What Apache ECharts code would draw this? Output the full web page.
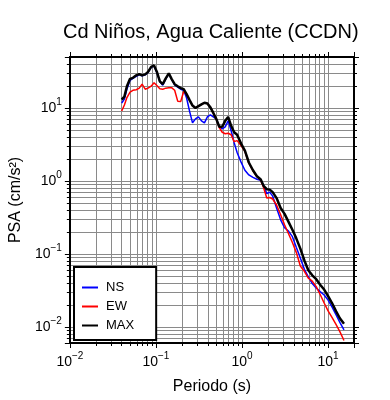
<!DOCTYPE html>
<html>
<head>
<meta charset="utf-8">
<script src="https://cdn.jsdelivr.net/npm/echarts@6/dist/echarts.min.js"></script>
<style>
  html, body { margin: 0; padding: 0; background: #fff; }
  #chart { width: 390px; height: 400px; }
</style>
</head>
<body>
<div id="chart"></div>
<script>
// periods (s)
const periods = [0.040, 0.043, 0.046, 0.050, 0.054, 0.059, 0.064, 0.069, 0.075, 0.081,
  0.088, 0.095, 0.103, 0.111, 0.120, 0.130, 0.141, 0.153, 0.165, 0.179,
  0.194, 0.210, 0.227, 0.246, 0.266, 0.288, 0.312, 0.338, 0.366, 0.396,
  0.429, 0.464, 0.502, 0.544, 0.589, 0.638, 0.690, 0.748, 0.810, 0.877,
  0.975, 1.08, 1.20, 1.34, 1.49, 1.65, 1.79, 1.94, 2.10, 2.27,
  2.52, 2.81, 3.12, 3.47, 3.85, 4.28, 4.76, 5.30, 5.89, 6.55,
  7.28, 8.09, 9.00, 10.0, 11.1, 12.4, 13.7, 15.3]

const ns = [11.7, 13.2, 18.1, 24.0, 25.5, 27.2, 28.5, 27.6, 28.5, 30.8,
  36.0, 37.7, 30.3, 22.9, 20.5, 25.1, 29.4, 24.4, 20.8, 19.3,
  18.1, 17.5, 13.7, 9.0, 6.26, 7.09, 7.55, 6.66, 6.26, 7.55,
  8.04, 7.55, 7.09, 5.52, 5.19, 5.52, 6.66, 4.87, 3.35, 2.45,
  1.81, 1.40, 1.21, 1.12, 1.054, 1.02, 0.848, 0.670, 0.703, 0.620,
  0.426, 0.293, 0.228, 0.205, 0.172, 0.122, 0.0879, 0.0614, 0.0486, 0.0391,
  0.0340, 0.0304, 0.0273, 0.0233, 0.0188, 0.0146, 0.0115, 0.0091]

const ew = [9.11, 11.0, 13.9, 16.5, 17.5, 17.8, 18.7, 21.2, 18.1, 18.7,
  19.9, 22.2, 20.2, 18.4, 18.1, 18.7, 19.0, 18.9, 17.5, 12.4,
  12.3, 16.8, 15.5, 12.8, 10.8, 10.0, 10.6, 11.2, 11.8, 11.5,
  10.2, 8.55, 7.09, 5.40, 4.65, 4.44, 4.50, 4.30, 3.46, 3.57,
  3.05, 2.55, 1.75, 1.38, 1.15, 1.02, 0.796, 0.582, 0.592, 0.565,
  0.468, 0.343, 0.251, 0.189, 0.143, 0.104, 0.0681, 0.0577, 0.0464, 0.0422,
  0.0356, 0.0277, 0.0212, 0.0165, 0.0135, 0.0107, 0.0086, 0.0065]

const maxv = [13.0, 14.3, 19.9, 25.1, 25.9, 28.0, 29.2, 28.0, 28.9, 31.3,
  36.6, 38.3, 30.8, 23.2, 21.2, 25.5, 29.8, 24.7, 21.2, 19.9,
  18.7, 18.1, 15.5, 12.8, 10.8, 10.0, 10.6, 11.2, 11.8, 11.5,
  10.2, 8.55, 7.09, 5.52, 5.52, 6.66, 7.55, 5.70, 4.65, 4.30,
  3.25, 2.61, 1.79, 1.40, 1.16, 1.045, 0.848, 0.771, 0.760, 0.703,
  0.582, 0.426, 0.353, 0.275, 0.214, 0.162, 0.118, 0.0813, 0.0595, 0.0509,
  0.0450, 0.0378, 0.0324, 0.0264, 0.0212, 0.0163, 0.0131, 0.0110]

const FONT = 'Liberation Sans'
const gridColor = '#8a8a8a'

function pairs(ys) {
  return periods.map((p, i) => [p, ys[i]])
}

// 10^n labels, only on whole decades
function powLabel(v) {
  const e = Math.log10(v)
  if (Math.abs(e - Math.round(e)) > 1e-6) return ''
  const n = Math.round(e)
  return '{b|10}{s|' + String(n).replace('-', '\u2212') + '}'
}
const labelRich = {
  b: { fontSize: 14, lineHeight: 22, color: '#000', fontFamily: FONT },
  s: { fontSize: 10, lineHeight: 11, verticalAlign: 'top', color: '#000', fontFamily: FONT }
}

function logAxis(opts) {
  return Object.assign({
    type: 'log',
    logBase: 10,
    axisLine: { show: true, onZero: false, lineStyle: { color: '#000', width: 2 } },
    axisTick: { show: true, inside: false, length: 5, lineStyle: { color: '#000', width: 1 } },
    minorTick: { show: true, splitNumber: 9, length: 3, lineStyle: { color: '#000', width: 1 } },
    splitLine: { show: false },
    minorSplitLine: { show: false },
    axisLabel: { show: false }
  }, opts)
}

const chart = echarts.init(document.getElementById('chart'))

const option = {
  animation: false,
  backgroundColor: '#fff',
  title: {
    text: 'Cd Niños, Agua Caliente (CCDN)',
    left: 63,
    top: 22,
    padding: 0,
    textStyle: { fontFamily: FONT, fontSize: 20, fontWeight: 'normal', color: '#000' }
  },
  grid: { left: 67, right: 36, top: 57, bottom: 55 },
  legend: {
    data: ['NS', 'EW', 'MAX'],
    orient: 'vertical',
    left: 74,
    top: 267,
    padding: [14, 22, 8, 8],
    itemGap: 6,
    itemWidth: 16,
    itemHeight: 2,
    icon: 'rect',
    backgroundColor: '#fff',
    borderColor: '#000',
    borderWidth: 2,
    borderRadius: 0,
    textStyle: { fontFamily: FONT, fontSize: 13, color: '#000', padding: [0, 0, 0, 3] }
  },
  xAxis: [
    logAxis({
      min: 0.01, max: 20, position: 'bottom',
      name: 'Periodo (s)', nameLocation: 'middle', nameGap: 36,
      nameTextStyle: { fontFamily: FONT, fontSize: 16, color: '#000' },
      splitLine: { show: true, lineStyle: { color: gridColor, width: 1 } },
      minorSplitLine: { show: true, lineStyle: { color: gridColor, width: 1 } },
      axisLabel: { show: true, margin: 8, formatter: powLabel, rich: labelRich }
    }),
    logAxis({ min: 0.01, max: 20, position: 'top' })
  ],
  yAxis: [
    logAxis({
      min: 0.006, max: 50, position: 'left',
      name: 'PSA (cm/s²)', nameLocation: 'middle', nameGap: 45,
      nameTextStyle: { fontFamily: FONT, fontSize: 16, color: '#000' },
      splitLine: { show: true, lineStyle: { color: gridColor, width: 1 } },
      minorSplitLine: { show: true, lineStyle: { color: gridColor, width: 1 } },
      axisLabel: { show: true, margin: 8, formatter: powLabel, rich: labelRich }
    }),
    logAxis({ min: 0.006, max: 50, position: 'right' })
  ],
  series: [
    {
      name: 'NS', type: 'line', data: pairs(ns), showSymbol: false,
      color: '#0000ff', lineStyle: { color: '#0000ff', width: 1.5 }
    },
    {
      name: 'EW', type: 'line', data: pairs(ew), showSymbol: false,
      color: '#ff0000', lineStyle: { color: '#ff0000', width: 1.5 }
    },
    {
      name: 'MAX', type: 'line', data: pairs(maxv), showSymbol: false,
      color: '#000000', lineStyle: { color: '#000000', width: 2.5 }
    }
  ]
}

chart.setOption(option)
</script>
</body>
</html>
